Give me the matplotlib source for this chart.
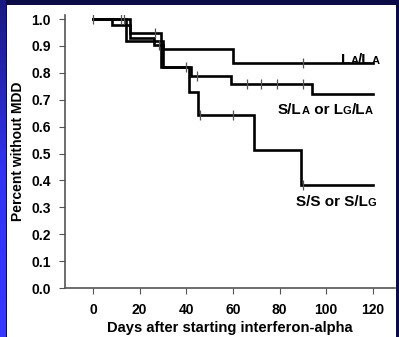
import matplotlib
matplotlib.use("Agg")
import matplotlib.pyplot as plt
import numpy as np
from matplotlib.colors import LinearSegmentedColormap

plt.rcParams['font.family'] = ['Liberation Sans', 'DejaVu Sans']
plt.rcParams['font.weight'] = 'bold'

# ---- data ----
a_days = [0, 14, 30, 60, 120]
a_surv = [1.0, 0.917, 0.89, 0.835, 0.835]
b_days = [0, 8, 16, 26, 30, 42, 59, 94, 120]
b_surv = [1.0, 0.977, 0.93, 0.905, 0.82, 0.79, 0.757, 0.72, 0.72]
c_days = [0, 16, 29, 41, 45, 69, 89, 120]
c_surv = [1.0, 0.947, 0.82, 0.73, 0.642, 0.514, 0.384, 0.384]

a_cens_days = [0, 90]
a_cens_surv = [1.0, 0.835]
b_cens_days = [28.5, 40, 44.5, 66, 72, 79, 90]
b_cens_surv = [0.905, 0.82, 0.79, 0.757, 0.757, 0.757, 0.757]
c_cens_days = [12, 13.5, 26.5, 46, 60, 90]
c_cens_surv = [1.0, 1.0, 0.947, 0.642, 0.642, 0.384]

x_ticks = [0, 20, 40, 60, 80, 100, 120]
y_ticks = [0.0, 0.1, 0.2, 0.3, 0.4, 0.5, 0.6, 0.7, 0.8, 0.9, 1.0]
x_label = "Days after starting interferon-alpha"
y_label = "Percent without MDD"

W, H = 399, 337
fig = plt.figure(figsize=(W / 100, H / 100), dpi=100)
fig.patch.set_facecolor('#0b0b46')

# white slide panel
bg = fig.add_axes([7 / W, 0, (396 - 7) / W, (H - 5) / H])
bg.set_facecolor('white')
bg.set_xticks([]); bg.set_yticks([])
for sp in bg.spines.values():
    sp.set_visible(False)
bg.set_zorder(0)

# left blue strip gradient
sax = fig.add_axes([0, 0, 6 / W, 1])
grad = np.linspace(0, 1, 256).reshape(-1, 1)
cm = LinearSegmentedColormap.from_list('b', ['#3838ff', '#3232f0', '#1a1a80'])
sax.imshow(grad, aspect='auto', cmap=cm, origin='lower', extent=[0, 1, 0, 1])
sax.axis('off')

ax = fig.add_axes([65 / W, (H - 288) / H, (395 - 65) / W, (288 - 15) / H])
ax.set_facecolor('none')
ax.set_zorder(2)

for d, s in [(a_days, a_surv), (b_days, b_surv), (c_days, c_surv)]:
    ax.plot(d, s, drawstyle='steps-post', color='black', lw=1.9,
            solid_joinstyle='miter', zorder=3)
for d, s in [(a_cens_days, a_cens_surv), (b_cens_days, b_cens_surv),
             (c_cens_days, c_cens_surv)]:
    ax.plot(d, s, ls='none', marker='|', ms=7, mew=0.9, color='#555555', zorder=4)

ax.set_xlim(-12, 129.5)
ax.set_ylim(0, 1.015)
ax.set_xticks(x_ticks)
ax.set_yticks(y_ticks)
ax.set_xticklabels([str(v) for v in x_ticks])
ax.set_yticklabels([f"{v:.1f}" for v in y_ticks])
for sp in ['top', 'right']:
    ax.spines[sp].set_visible(False)
for sp in ['left', 'bottom']:
    ax.spines[sp].set_color('#555555')
    ax.spines[sp].set_linewidth(1.2)
ax.tick_params(axis='both', colors='#555555', labelcolor='black', length=4,
               width=0.8, labelsize=10, pad=6)
ax.tick_params(axis='x', pad=7)
for lab in ax.get_xticklabels() + ax.get_yticklabels():
    lab.set_fontweight('bold')
ax.set_xlabel(x_label, fontsize=10.6, fontweight='bold', labelpad=3)
ax.set_ylabel(y_label, fontsize=10, fontweight='bold', labelpad=5)

# mixed-size labels (small caps letters)
renderer = fig.canvas.get_renderer()


def rainbow(xpix, ypix, parts):
    x = xpix
    for s, fs in parts:
        t = fig.text(x / W, (H - ypix) / H, s, fontsize=fs, fontweight='bold',
                     ha='left', va='baseline', color='black', zorder=5)
        bb = t.get_window_extent(renderer)
        x += bb.width


big, small = 11, 8
rainbow(341, 64, [("L", big), ("A", small), ("/L", big), ("A", small)])
rainbow(278, 114, [("S/L", big), ("A", small), (" or L", big), ("G", small),
                   ("/L", big), ("A", small)])
rainbow(296, 206, [("S/S or S/L", big), ("G", small)])

fig.savefig("out.png", dpi=100, facecolor=fig.get_facecolor())
